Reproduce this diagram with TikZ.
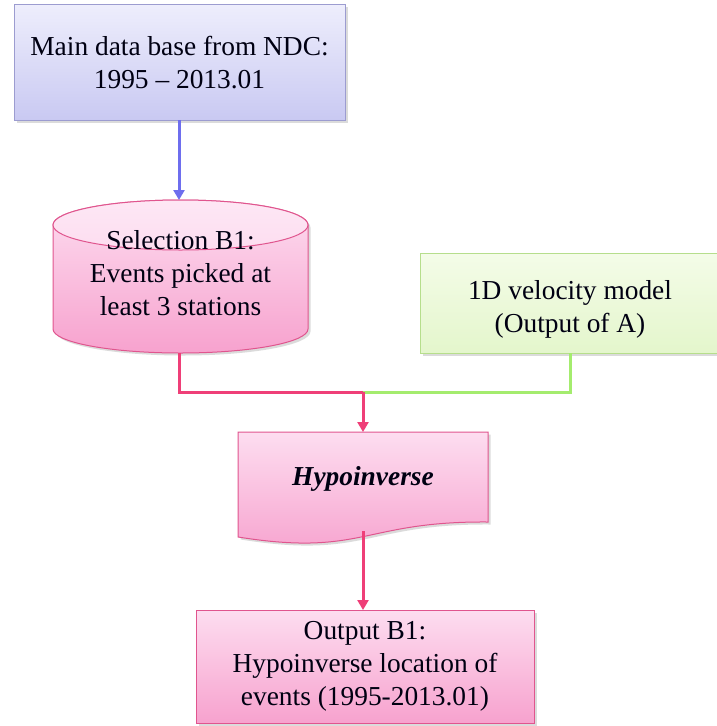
\documentclass[tikz,border=0pt]{standalone}
\usepackage{fontspec}
\setmainfont{Liberation Serif}
\usetikzlibrary{arrows.meta,shadows,calc}

\definecolor{lavtop}{HTML}{EEEEFC}
\definecolor{lavbot}{HTML}{C9C9F2}
\definecolor{lavedge}{HTML}{9C9CD0}
\definecolor{bluearrow}{HTML}{6E6EEE}
\definecolor{pinktop}{HTML}{FDDDF0}
\definecolor{pinkbot}{HTML}{F7A2CE}
\definecolor{pinkedge}{HTML}{E0558E}
\definecolor{pinkline}{HTML}{EF3F78}
\definecolor{greentop}{HTML}{F4FCE8}
\definecolor{greenbot}{HTML}{E4F6CC}
\definecolor{greenedge}{HTML}{B6DE8C}
\definecolor{greenline}{HTML}{A4EC6E}

\tikzset{
  boxtext/.style={align=center, font=\fontsize{27.4}{33}\selectfont, text=black!93!blue},
  softshadow/.style={drop shadow={opacity=0.28, shadow xshift=2.5pt, shadow yshift=-2.5pt}},
  lavbox/.style={draw=lavedge, line width=1pt, top color=lavtop, bottom color=lavbot, softshadow},
  pinkfill/.style={draw=pinkedge, line width=1pt, top color=pinktop, bottom color=pinkbot, softshadow},
  greenbox/.style={draw=greenedge, line width=1pt, top color=greentop, bottom color=greenbot, softshadow},
  tipstyle/.style={-{Triangle[length=10pt,width=11pt]}},
  blueconn/.style={draw=bluearrow, line width=3pt, tipstyle},
  pinkconn/.style={draw=pinkline, line width=3pt},
  greenconn/.style={draw=greenline, line width=3pt},
}

\begin{document}
\begin{tikzpicture}[x=1pt,y=-1pt]
  \useasboundingbox (0,0) rectangle (716,726);
  \fill[white] (0,0) rectangle (716,726);

  % Source database box
  \path[lavbox] (14,4) rectangle (345,120);
  \node[boxtext] (ndc) at (179.5,63) {Main data base from NDC:\\1995 -- 2013.01};
  \coordinate (ndcS) at (179,120);

  % Selection cylinder
  \path[pinkfill] (53,225) -- (53,329) arc (180:0:127.5 and 24) -- (308,225)
        arc (0:-180:127.5 and 25) -- cycle;
  \path[draw=pinkedge, line width=1pt, top color=pinktop!70!white, bottom color=pinktop]
        (180.5,225) ellipse (127.5 and 25);
  \node[boxtext] (sel) at (180.5,273) {Selection B1:\\Events picked at\\least 3 stations};
  \coordinate (selN) at (179,200);
  \coordinate (selS) at (179,353);

  % Velocity model box
  \path[greenbox] (420,253) rectangle (721,353);
  \node[boxtext] (velo) at (570,309) {1D velocity model\\(Output of A)};
  \coordinate (veloS) at (570,353);

  % Hypoinverse document shape
  \path[pinkfill] (238,432) -- (488,432) -- (488,522)
        .. controls (363,521) and (363,557) .. (238,537) -- cycle;
  \node[boxtext, font=\fontsize{27.4}{33}\selectfont\bfseries\itshape] (hypo) at (363,479) {Hypoinverse};
  \coordinate (hypoN) at (363,432);
  \coordinate (hypoS) at (363,531);

  % Output box
  \path[pinkfill] (196,610) rectangle (534,723);
  \node[boxtext] (out) at (365,666) {Output B1:\\Hypoinverse location of\\events (1995-2013.01)};
  \coordinate (outN) at (363,610);

  % Connectors
  \coordinate (join) at (363,392);
  \draw[blueconn] (ndcS) -- (selN);
  \draw[greenconn] (veloS) |- (join);
  \draw[pinkconn] (selS) |- (join);
  \draw[pinkconn, tipstyle] (join) -- (hypoN);
  \draw[pinkconn, tipstyle] (hypoS) -- (outN);
\end{tikzpicture}
\end{document}
